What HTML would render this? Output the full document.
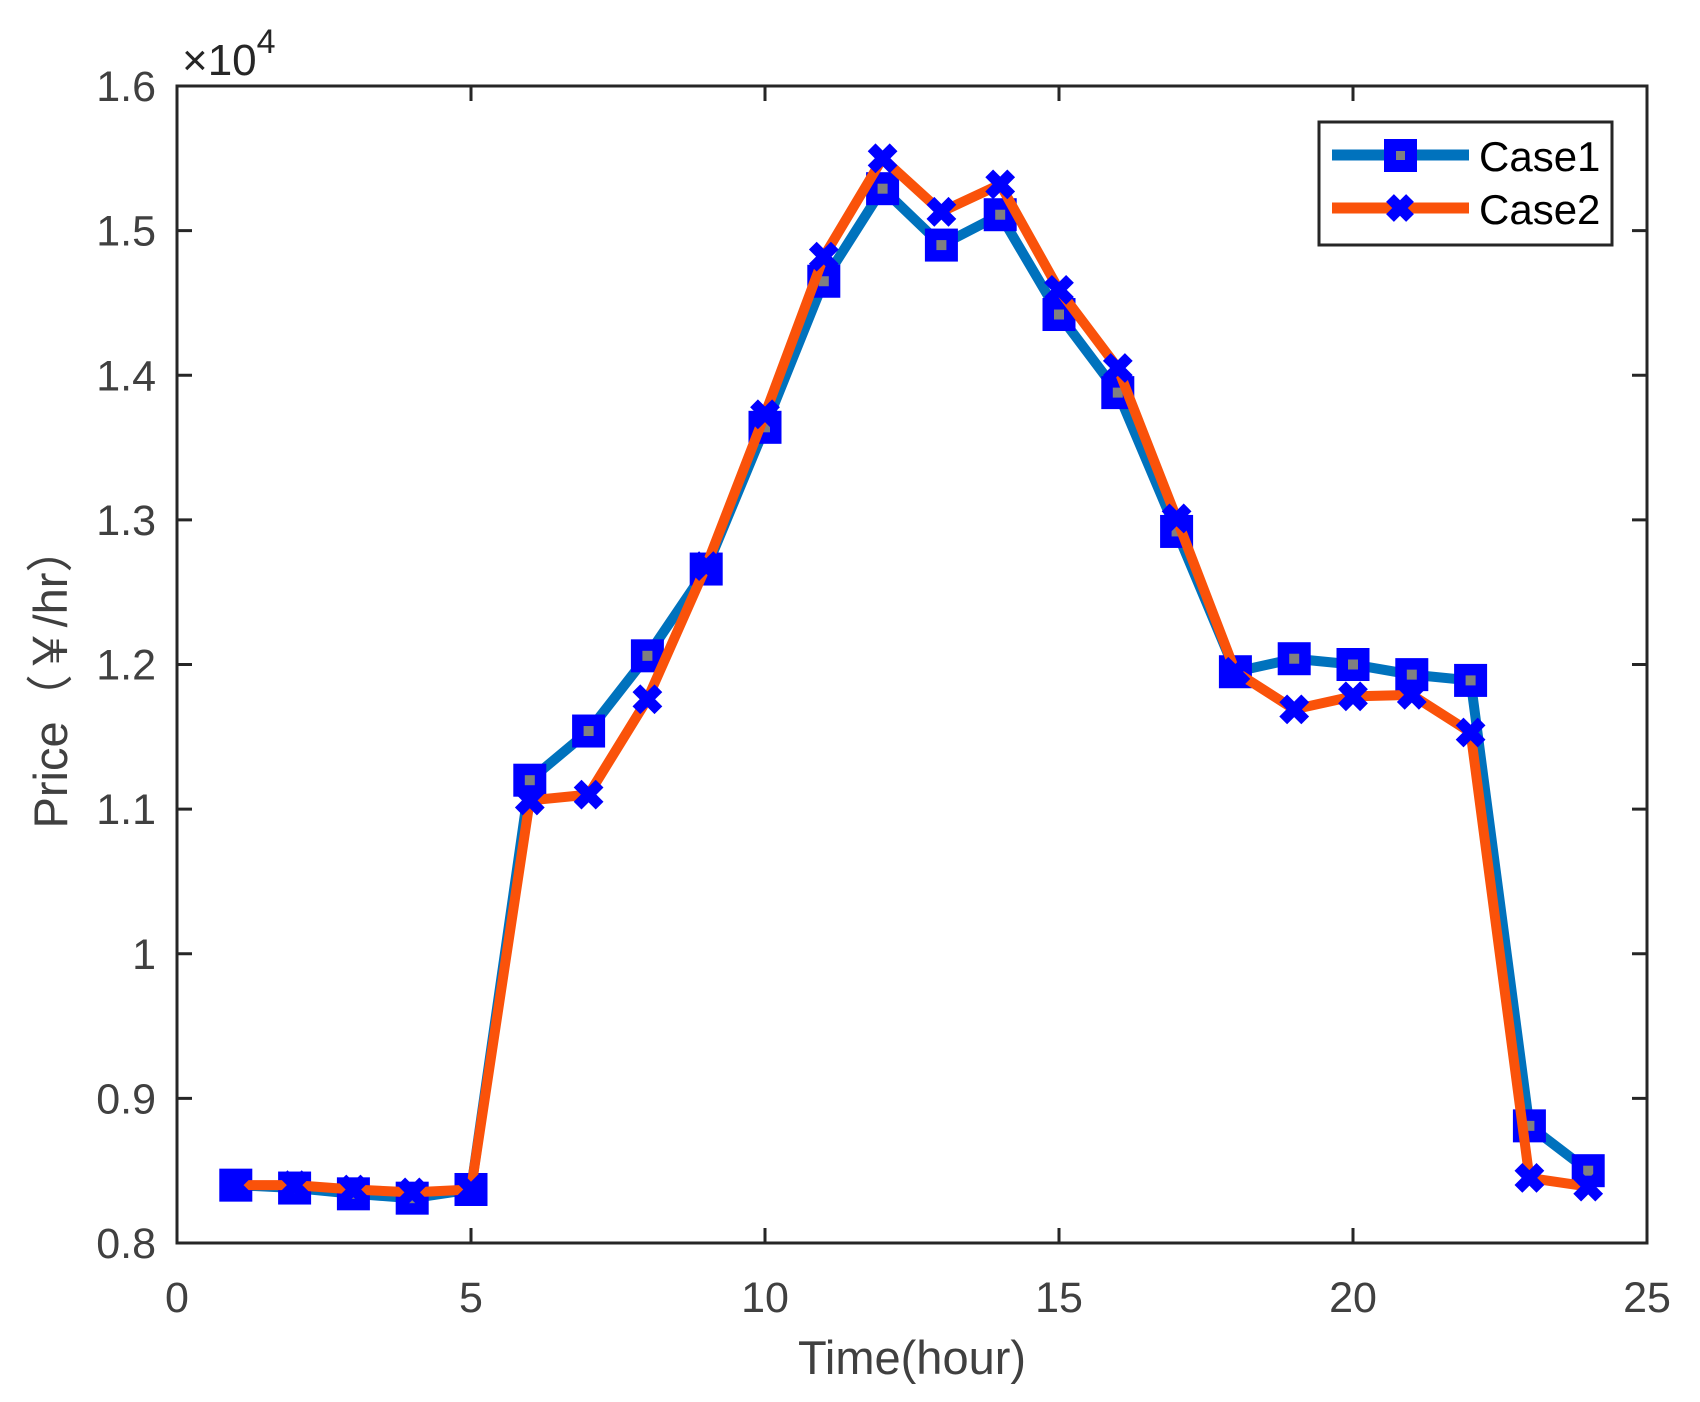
<!DOCTYPE html>
<html><head><meta charset="utf-8"><style>
html,body{margin:0;padding:0;background:#fff;}
svg{display:block;font-family:"Liberation Sans","Noto Sans CJK SC",sans-serif;}
</style></head><body>
<svg id="chart" width="1700" height="1402" viewBox="0 0 1700 1402" xmlns="http://www.w3.org/2000/svg">
<g id="plot"></g>
</svg>
<script>
const hours = [1,2,3,4,5,6,7,8,9,10,11,12,13,14,15,16,17,18,19,20,21,22,23,24];
const case1 = [0.840,0.838,0.834,0.831,0.837,1.120,1.154,1.206,1.266,1.364,1.465,1.529,1.490,1.511,1.442,1.388,1.292,1.195,1.204,1.200,1.193,1.189,0.881,0.850];
const case2 = [0.840,0.840,0.837,0.835,0.837,1.106,1.110,1.176,1.268,1.373,1.482,1.550,1.513,1.532,1.459,1.405,1.301,1.195,1.169,1.178,1.179,1.153,0.845,0.839];
const xTicks = [0,5,10,15,20,25];
const yTicks = [0.8,0.9,1.0,1.1,1.2,1.3,1.4,1.5,1.6];
const yTickLabels = ["0.8","0.9","1","1.1","1.2","1.3","1.4","1.5","1.6"];

const L=177,R=1647,T=86,B=1243;
const xS=v=>L+(v-0)/25*(R-L);
const yS=v=>B-(v-0.8)/0.8*(B-T);
const NS="http://www.w3.org/2000/svg";
const g=document.getElementById('plot');
function mk(tag,attrs,parent){const e=document.createElementNS(NS,tag);for(const k in attrs)e.setAttribute(k,attrs[k]);(parent||g).appendChild(e);return e;}

xTicks.forEach(v=>{
  const x=xS(v);
  const t1=mk('line',{x1:x,x2:x,y1:B,y2:B-15,stroke:'#262626','stroke-width':3});
  
  
  const t2=mk('line',{x1:x,x2:x,y1:T,y2:T+15,stroke:'#262626','stroke-width':3});
  
  
  const tx=mk('text',{x:x,y:1312,'font-size':43,fill:'#404040','text-anchor':'middle'});
  tx.textContent=String(v);
  
  
});
yTicks.forEach((v,i)=>{
  const y=yS(v);
  const t1=mk('line',{x1:L,x2:L+15,y1:y,y2:y,stroke:'#262626','stroke-width':3});
  
  
  const t2=mk('line',{x1:R,x2:R-15,y1:y,y2:y,stroke:'#262626','stroke-width':3});
  
  
  const tx=mk('text',{x:156,y:y+15,'font-size':43,fill:'#404040','text-anchor':'end'});
  tx.textContent=yTickLabels[i];
  
  
});

function drawSeries(vals,color,marker,name){
  const pts=hours.map((h,i)=>xS(h)+','+yS(vals[i])).join(' ');
  const pl=mk('polyline',{points:pts,fill:'none',stroke:color,'stroke-width':10,'stroke-linejoin':'miter'});
  
  
  hours.forEach((h,i)=>{
    const x=xS(h),y=yS(vals[i]);
    if(marker==='square'){
      const m=mk('g',{});
      mk('rect',{x:x-16.5,y:y-16.5,width:33,height:33,fill:'#0000FF'},m);
      mk('rect',{x:x-5,y:y-5,width:10,height:10,fill:'#808080'},m);
      
      
    } else {
      const m=mk('path',{d:`M${x-11},${y-11}L${x+11},${y+11}M${x-11},${y+11}L${x+11},${y-11}`,stroke:'#0000FF','stroke-width':11,fill:'none'});
      
      
    }
  });
}
drawSeries(case1,'#0072BD','square','case1');
drawSeries(case2,'#FA520A','x','case2');

const box=mk('rect',{x:L,y:T,width:R-L,height:B-T,fill:'none',stroke:'#262626','stroke-width':3});



const ex=mk('text',{x:182,y:75,'font-size':44,fill:'#262626'});
ex.innerHTML='×10<tspan dy="-22" font-size="34">4</tspan>';



const xl=mk('text',{x:912,y:1374,'font-size':47,fill:'#404040','text-anchor':'middle'});
xl.textContent='Time(hour)';


const yl=mk('text',{x:0,y:0,'font-size':47,fill:'#404040','text-anchor':'middle',transform:'translate(67,677) rotate(-90)'});
yl.textContent='Price（￥/hr）';



const lg=mk('g',{});


mk('rect',{x:1319,y:122,width:293,height:123,fill:'#fff',stroke:'#262626','stroke-width':3},lg);
const e1=mk('g',{},lg);


mk('line',{x1:1332,x2:1469,y1:155,y2:155,stroke:'#0072BD','stroke-width':11},e1);
mk('rect',{x:1384,y:139,width:33,height:33,fill:'#0000FF'},e1);
mk('rect',{x:1396,y:151,width:9,height:9,fill:'#808080'},e1);
const t1=mk('text',{x:1479,y:171,'font-size':42,fill:'#000'},e1);t1.textContent='Case1';
const e2=mk('g',{},lg);


mk('line',{x1:1332,x2:1469,y1:208,y2:208,stroke:'#FA520A','stroke-width':11},e2);
mk('path',{d:'M1390,198L1410,218M1390,218L1410,198',stroke:'#0000FF','stroke-width':11},e2);
const t2=mk('text',{x:1479,y:224,'font-size':42,fill:'#000'},e2);t2.textContent='Case2';
</script>
</body></html>
